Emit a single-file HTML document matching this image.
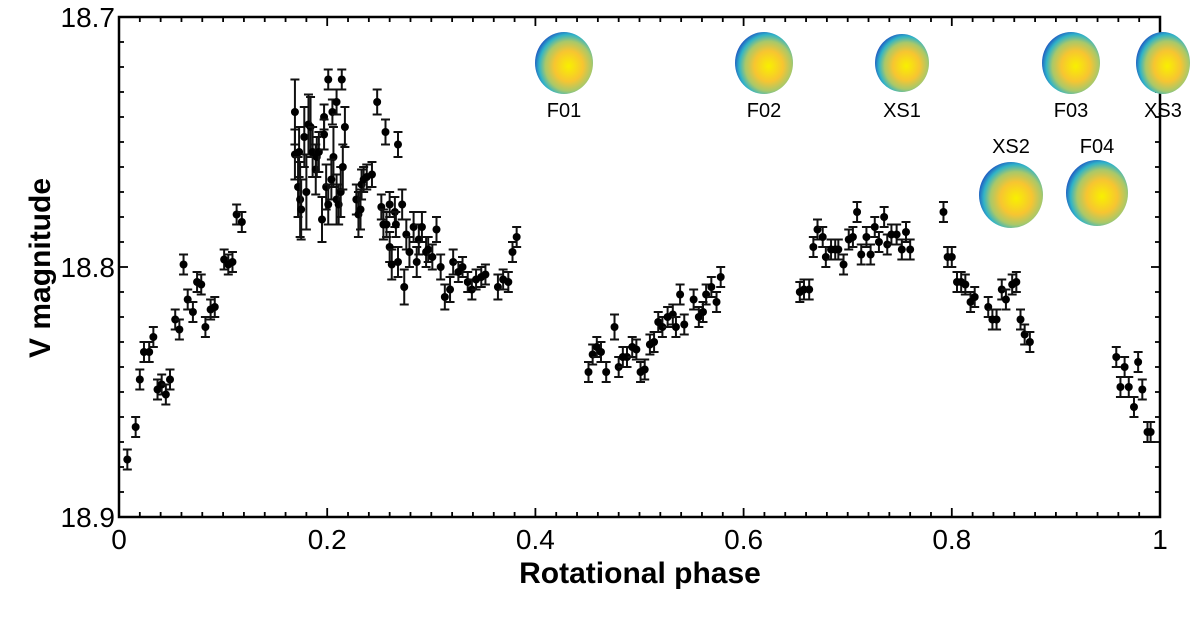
<!DOCTYPE html>
<html><head><meta charset="utf-8"><style>
html,body{margin:0;padding:0;background:#fff;}
svg{display:block;font-family:"Liberation Sans","DejaVu Sans",sans-serif;}
</style></head><body>
<svg id="chart" width="1200" height="620" viewBox="0 0 1200 620" xmlns="http://www.w3.org/2000/svg">
<defs>
<radialGradient id="shapeGrad" cx="0.58" cy="0.55" r="0.62">
<stop offset="0" stop-color="#f8f000"/>
<stop offset="0.4" stop-color="#f7c531"/>
<stop offset="0.65" stop-color="#a8c86a"/>
<stop offset="0.82" stop-color="#2fb3c8"/>
<stop offset="1" stop-color="#1b3fc0"/>
</radialGradient>
</defs>
<g id="axes"></g>
<g id="shapes"></g>
<g id="points"></g>
</svg>
<script>
const phases=[.008,.016,.020,.024,.029,.033,.037,.041,.045,.049,.054,.058,.062,.066,.071,.075,.079,.083,.088,.092,.101,.105,.109,.113,.118,
.169,.169,.172,.174,.175,.173,.178,.180,.182,.184,.186,.189,.190,.192,.195,.197,.197,.201,.199,.201,.205,.206,.204,.209,.209,.211,.213,.214,.215,.217,
.248,.256,.268,.228,.230,.232,.233,.235,.238,.243,.252,.254,.257,.260,.260,.262,.265,.266,.268,.272,.274,.276,.279,.283,.286,.288,.291,.295,.297,.301,.305,.309,.313,.318,.321,.326,.330,.335,.339,.343,.348,.352,.364,.369,.374,.378,.382,
.451,.455,.459,.463,.468,.476,.480,.484,.488,.493,.497,.501,.505,.510,.514,.518,.522,.527,.532,.535,.539,.543,.552,.557,.561,.564,.569,.574,.578,
.654,.658,.663,.667,.671,.676,.679,.684,.688,.691,.696,.701,.705,.709,.713,.718,.722,.726,.730,.735,.738,.742,.747,.752,.756,.760,
.792,.796,.800,.805,.809,.813,.818,.822,.835,.839,.843,.848,.852,.858,.862,.866,.870,.875,
.958,.962,.966,.970,.975,.979,.983,.988,.991];
const mags=[18.877,18.864,18.845,18.834,18.834,18.828,18.849,18.847,18.851,18.845,18.821,18.825,18.799,18.813,18.818,18.806,18.807,18.824,18.817,18.816,18.797,18.799,18.798,18.779,18.782,
18.738,18.755,18.768,18.773,18.777,18.754,18.748,18.770,18.743,18.744,18.754,18.761,18.756,18.754,18.781,18.740,18.747,18.725,18.768,18.775,18.738,18.756,18.765,18.734,18.773,18.775,18.770,18.725,18.760,18.744,
18.734,18.746,18.751,18.773,18.779,18.777,18.767,18.765,18.764,18.763,18.776,18.783,18.783,18.775,18.792,18.799,18.778,18.783,18.798,18.775,18.808,18.787,18.794,18.784,18.798,18.789,18.784,18.794,18.793,18.796,18.785,18.800,18.812,18.809,18.798,18.802,18.800,18.806,18.809,18.805,18.804,18.803,18.808,18.805,18.806,18.794,18.788,
18.842,18.835,18.832,18.834,18.842,18.824,18.840,18.836,18.836,18.832,18.833,18.842,18.841,18.831,18.830,18.822,18.824,18.820,18.819,18.824,18.811,18.823,18.813,18.820,18.818,18.811,18.808,18.814,18.804,
18.810,18.809,18.809,18.792,18.785,18.788,18.796,18.793,18.793,18.793,18.799,18.789,18.788,18.778,18.795,18.788,18.795,18.784,18.790,18.780,18.791,18.787,18.787,18.793,18.786,18.793,
18.778,18.796,18.796,18.806,18.806,18.807,18.814,18.812,18.816,18.821,18.821,18.809,18.813,18.807,18.806,18.821,18.827,18.830,
18.836,18.848,18.840,18.848,18.856,18.838,18.849,18.866,18.866];
const errs=[.004,.004,.004,.004,.004,.004,.004,.004,.004,.004,.004,.004,.004,.004,.004,.004,.004,.004,.004,.004,.004,.004,.004,.004,.004,
.013,.010,.012,.015,.012,.010,.012,.015,.012,.012,.010,.010,.008,.008,.009,.005,.006,.004,.009,.008,.005,.012,.008,.005,.010,.008,.010,.004,.009,.008,
.005,.005,.005,.006,.009,.008,.006,.005,.005,.005,.005,.006,.005,.005,.006,.006,.006,.005,.006,.006,.007,.006,.006,.006,.006,.006,.006,.006,.005,.005,.005,.005,.005,.005,.005,.004,.004,.004,.004,.004,.004,.004,.005,.004,.004,.004,.004,
.004,.004,.004,.004,.004,.005,.004,.004,.004,.004,.004,.004,.004,.004,.004,.004,.004,.004,.004,.004,.004,.004,.004,.004,.004,.004,.004,.004,.004,
.004,.004,.004,.004,.004,.004,.004,.004,.004,.004,.004,.004,.004,.004,.004,.004,.004,.004,.004,.004,.004,.004,.004,.004,.004,.004,
.004,.004,.004,.004,.004,.004,.004,.004,.004,.004,.004,.004,.004,.004,.004,.004,.004,.004,
.004,.004,.004,.004,.004,.004,.004,.004,.004];
const xTicks=[0,0.2,0.4,0.6,0.8,1];
const xTickLabels=["0","0.2","0.4","0.6","0.8","1"];
const yTicks=[18.7,18.8,18.9];
const yTickLabels=["18.7","18.8","18.9"];
const shapeNames=["F01","F02","XS1","F03","XS3","XS2","F04"];

const L=119,R=1160,T=17,B=517;
const xs=v=>L+(v-0)/(1-0)*(R-L);
const ys=v=>T+(v-18.7)/(18.9-18.7)*(B-T);
const NS="http://www.w3.org/2000/svg";
function mk(tag,attrs,parent){const e=document.createElementNS(NS,tag);for(const k in attrs)e.setAttribute(k,attrs[k]);parent.appendChild(e);return e;}
const ax=document.getElementById('axes');
const frame=mk('rect',{x:L,y:T,width:R-L,height:B-T,fill:'none',stroke:'#000','stroke-width':2.5},ax);


for(let i=0;i<=50;i++){const v=i*0.02;const x=xs(v);const len=(i%10===0)?9:5;
 const t1=mk('line',{x1:x,x2:x,y1:B,y2:B-len,stroke:'#000','stroke-width':1.8},ax);
 
 
 const t2=mk('line',{x1:x,x2:x,y1:T,y2:T+len,stroke:'#000','stroke-width':1.8},ax);
 
 }
for(let i=0;i<=20;i++){const v=18.7+i*0.01;const y=ys(v);const len=(i%10===0)?9:5;
 const t1=mk('line',{x1:L,x2:L+len,y1:y,y2:y,stroke:'#000','stroke-width':1.8},ax);
 
 
 const t2=mk('line',{x1:R,x2:R-len,y1:y,y2:y,stroke:'#000','stroke-width':1.8},ax);
 
 }
xTicks.forEach((v,i)=>{const t=mk('text',{x:xs(v),y:549,'text-anchor':'middle','font-size':28,fill:'#000'},ax);t.textContent=xTickLabels[i];
 
 });
yTicks.forEach((v,i)=>{const t=mk('text',{x:L-4,y:ys(v)+10,'text-anchor':'end','font-size':28,fill:'#000'},ax);t.textContent=yTickLabels[i];
 
 });
const xt=mk('text',{x:640,y:583,'text-anchor':'middle','font-size':30,'font-weight':'bold',fill:'#000'},ax);xt.textContent='Rotational phase';


const yt=mk('text',{x:0,y:0,'text-anchor':'middle','font-size':30,'font-weight':'bold',fill:'#000',transform:'translate(50,268) rotate(-90)'},ax);yt.textContent='V magnitude';



const sh=document.getElementById('shapes');
const shapePos=[[564,63,29,31,110],[764,63,29,31,110],[902,63,27,29,110],[1071,63,29,31,110],[1163,63,27,31,110],[1011,195,32,33,146],[1097,193,31,33,146]];
shapeNames.forEach((n,i)=>{const p=shapePos[i];
 const g=mk('g',{},sh);
 
 
 mk('ellipse',{cx:p[0],cy:p[1],rx:p[2],ry:p[3],fill:'url(#shapeGrad)'},g);
 const t=mk('text',{x:p[0],y:p[4]+7,'text-anchor':'middle','font-size':20,fill:'#000'},g);t.textContent=n;
 
 });

const pg=document.getElementById('points');
phases.forEach((ph,i)=>{const x=xs(ph),y=ys(mags[i]),e1=ys(mags[i]-errs[i]),e2=ys(mags[i]+errs[i]);
 const g=mk('g',{},pg);
 
 
 mk('line',{x1:x,x2:x,y1:e1,y2:e2,stroke:'#111','stroke-width':2},g);
 mk('line',{x1:x-4.5,x2:x+4.5,y1:e1,y2:e1,stroke:'#111','stroke-width':2},g);
 mk('line',{x1:x-4.5,x2:x+4.5,y1:e2,y2:e2,stroke:'#111','stroke-width':2},g);
 mk('circle',{cx:x,cy:y,r:4,fill:'#000'},g);});
</script>
</body></html>
